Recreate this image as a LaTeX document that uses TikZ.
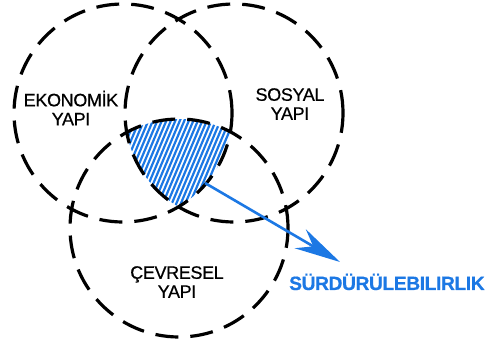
\documentclass[tikz,border=0pt]{standalone}
\usepackage{fontspec}
\setmainfont{Liberation Sans}
\newfontfamily\vennfont[LetterSpace=-2, FakeBold=0.6]{Liberation Sans}
\usetikzlibrary{shapes,arrows.meta}
\definecolor{sblue}{RGB}{28,120,228}
\tikzstyle{venn} = [circle, draw=black, line width=3.2pt, dash pattern=on 23pt off 12pt, minimum size=218pt, inner sep=0pt]
\tikzstyle{label} = [align=center, font=\vennfont\fontsize{18}{19}\selectfont, inner sep=0pt]
\tikzstyle{goal} = [text=sblue, font=\vennfont\bfseries\fontsize{19.2}{21}\selectfont, inner sep=0pt]
\tikzstyle{hatch} = [sblue, line width=2.2pt]
\tikzstyle{arrow} = [sblue, line width=2.6pt, -{Stealth[length=46pt, width=22pt, inset=15pt]}]

\begin{document}
\begin{tikzpicture}[x=1pt, y=-1pt]
\useasboundingbox (0,0) rectangle (485,344);

% hatched common part
\begin{scope}
\clip (123,113) circle (109pt);
\clip (234,113) circle (109pt);
\clip (179,228) circle (109pt);
\foreach \i in {0,...,45}
  \draw [hatch] (55+\i*4.5,235) -- ++(55,-130);
\end{scope}

\node (eko) [venn] at (123,113) {};
\node (sos) [venn] at (234,113) {};
\node (cev) [venn] at (179,228) {};

\node (ekoText) [label] at (71,108) {EKONOMİK\\YAPI};
\node (sosText) [label] at (290,104) {SOSYAL\\YAPI};
\node (cevText) [label] at (177,282) {ÇEVRESEL\\YAPI};
\node (surd) [goal, anchor=base west] at (289,290) {SÜRDÜRÜLEBILIRLIK};

\coordinate (kesisim) at (205,183);
\coordinate (tip) at (340,262);
\draw [arrow] (kesisim) -- (tip);

\end{tikzpicture}
\end{document}
